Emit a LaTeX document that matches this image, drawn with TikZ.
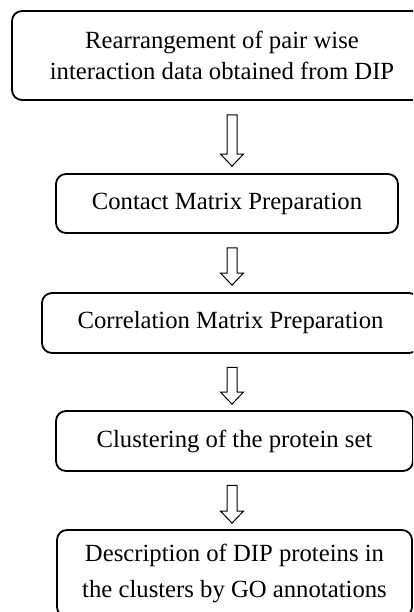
\documentclass[tikz,border=0pt]{standalone}
\usepackage{fontspec}
\setmainfont{Liberation Serif}
\usetikzlibrary{calc}
\newcommand\hollowarrow[2]{%
  \draw[blockarrow] ($(#1)+(-5,0)$) -- ($(#2)+(-5,-12)$) -- ($(#2)+(-11.5,-12)$) -- (#2)
    -- ($(#2)+(11.5,-12)$) -- ($(#2)+(5,-12)$) -- ($(#1)+(5,0)$) -- cycle;}
\begin{document}
\begin{tikzpicture}[x=1pt,y=-1pt,
  box/.style={draw, line width=1.8pt, rounded corners=10pt, align=center, inner sep=0pt,
    font=\fontsize{24.7}{30.5}\selectfont},
  blockarrow/.style={draw, line width=1pt, fill=white, line join=miter}]
\useasboundingbox (0,0) rectangle (413,612);
\clip (0,0) rectangle (413,612);
\node[box, minimum width=420, minimum height=89] (b1) at (222,55.5)
  {Rearrangement of pair wise\\interaction data obtained from DIP};
\node[box, minimum width=342, minimum height=59] (b2) at (227,203.5) {Contact Matrix Preparation};
\node[box, minimum width=377, minimum height=60] (b3) at (230.5,323) {Correlation Matrix Preparation};
\node[box, minimum width=357, minimum height=60] (b4) at (234.5,441) {Clustering of the protein set};
\node[box, minimum width=355, minimum height=87, font=\fontsize{24.7}{36}\selectfont] (b5) at (234.5,573.5)
  {Description of DIP proteins in\\the clusters by GO annotations};
\coordinate (ax) at (232,0);
\coordinate (a1s) at ($(ax |- b1.south)+(0,14)$);
\coordinate (a1e) at ($(ax |- b2.north)+(0,-7)$);
\coordinate (a2s) at ($(ax |- b2.south)+(0,14)$);
\coordinate (a2e) at ($(ax |- b3.north)+(0,-7)$);
\coordinate (a3s) at ($(ax |- b3.south)+(0,13.5)$);
\coordinate (a3e) at ($(ax |- b4.north)+(0,-6)$);
\coordinate (a4s) at ($(ax |- b4.south)+(0,13.5)$);
\coordinate (a4e) at ($(ax |- b5.north)+(0,-6)$);
\hollowarrow{a1s}{a1e}
\hollowarrow{a2s}{a2e}
\hollowarrow{a3s}{a3e}
\hollowarrow{a4s}{a4e}
\end{tikzpicture}
\end{document}
